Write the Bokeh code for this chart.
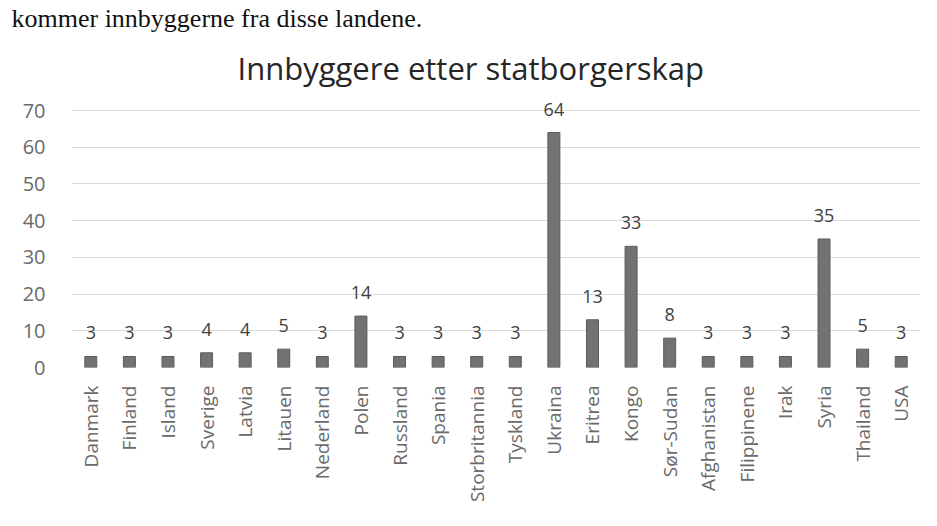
from bokeh.plotting import figure
from bokeh.models import ColumnDataSource, LabelSet, Range1d, FactorRange, Title
from bokeh.core.properties import value
from bokeh.embed import file_html
from bokeh.resources import INLINE
import math

countries = ["Danmark", "Finland", "Island", "Sverige", "Latvia", "Litauen", "Nederland",
             "Polen", "Russland", "Spania", "Storbritannia", "Tyskland", "Ukraina",
             "Eritrea", "Kongo", "Sør-Sudan", "Afghanistan", "Filippinene", "Irak",
             "Syria", "Thailand", "USA"]
values = [3, 3, 3, 4, 4, 5, 3, 14, 3, 3, 3, 3, 64, 13, 33, 8, 3, 3, 3, 35, 5, 3]
y_ticks = [0, 10, 20, 30, 40, 50, 60, 70]
title_text = "Innbyggere etter statborgerskap"
page_text = "kommer innbyggerne fra disse landene."

src = ColumnDataSource(dict(country=countries, value=values,
                            label=[str(v) for v in values]))

FONT = "Open Sans"

p = figure(width=921, height=510, x_range=FactorRange(*countries, range_padding=0),
           y_range=Range1d(0, 73), output_backend="svg", toolbar_location=None,
           min_border_left=71, min_border_right=1, min_border_top=96, min_border_bottom=143)

p.title.visible = False
p.add_layout(Title(text=title_text, text_font=FONT, text_font_size="31px",
                   text_font_style="normal", text_color="#262626",
                   align="left", offset=166, standoff=22), "above")
p.add_layout(Title(text=page_text, text_font="Liberation Serif", text_font_size="26px",
                   text_font_style="normal", text_color="#111111",
                   align="left", offset=-60, standoff=2), "above")

p.vbar(x="country", top="value", width=0.31, source=src,
       fill_color="#727272", line_color="#5a5a5a", line_width=1)

p.outline_line_color = None
p.xgrid.grid_line_color = None
p.ygrid.grid_line_color = "#dadada"
p.ygrid.grid_line_width = 1

p.yaxis.ticker = y_ticks
p.yaxis.axis_line_color = None
p.yaxis.major_tick_line_color = None
p.yaxis.minor_tick_line_color = None
p.yaxis.major_label_standoff = 20
p.yaxis.major_label_text_font = FONT
p.yaxis.major_label_text_font_size = "20px"
p.yaxis.major_label_text_color = "#6a6a6a"

p.xaxis.axis_line_color = None
p.xaxis.major_tick_line_color = None
p.xaxis.minor_tick_line_color = None
p.xaxis.major_label_orientation = math.pi / 2
p.xaxis.major_label_standoff = 12
p.xaxis.major_label_text_font = FONT
p.xaxis.major_label_text_font_size = "19px"
p.xaxis.major_label_text_color = "#6a6a6a"

# data labels above bars
p.add_layout(LabelSet(x="country", y="value", text="label", source=src,
                      text_align="center", text_baseline="alphabetic", y_offset=17,
                      text_font=value(FONT), text_font_size="18px", text_color="#404040"))

open("out.html", "w").write(file_html(p, INLINE))
